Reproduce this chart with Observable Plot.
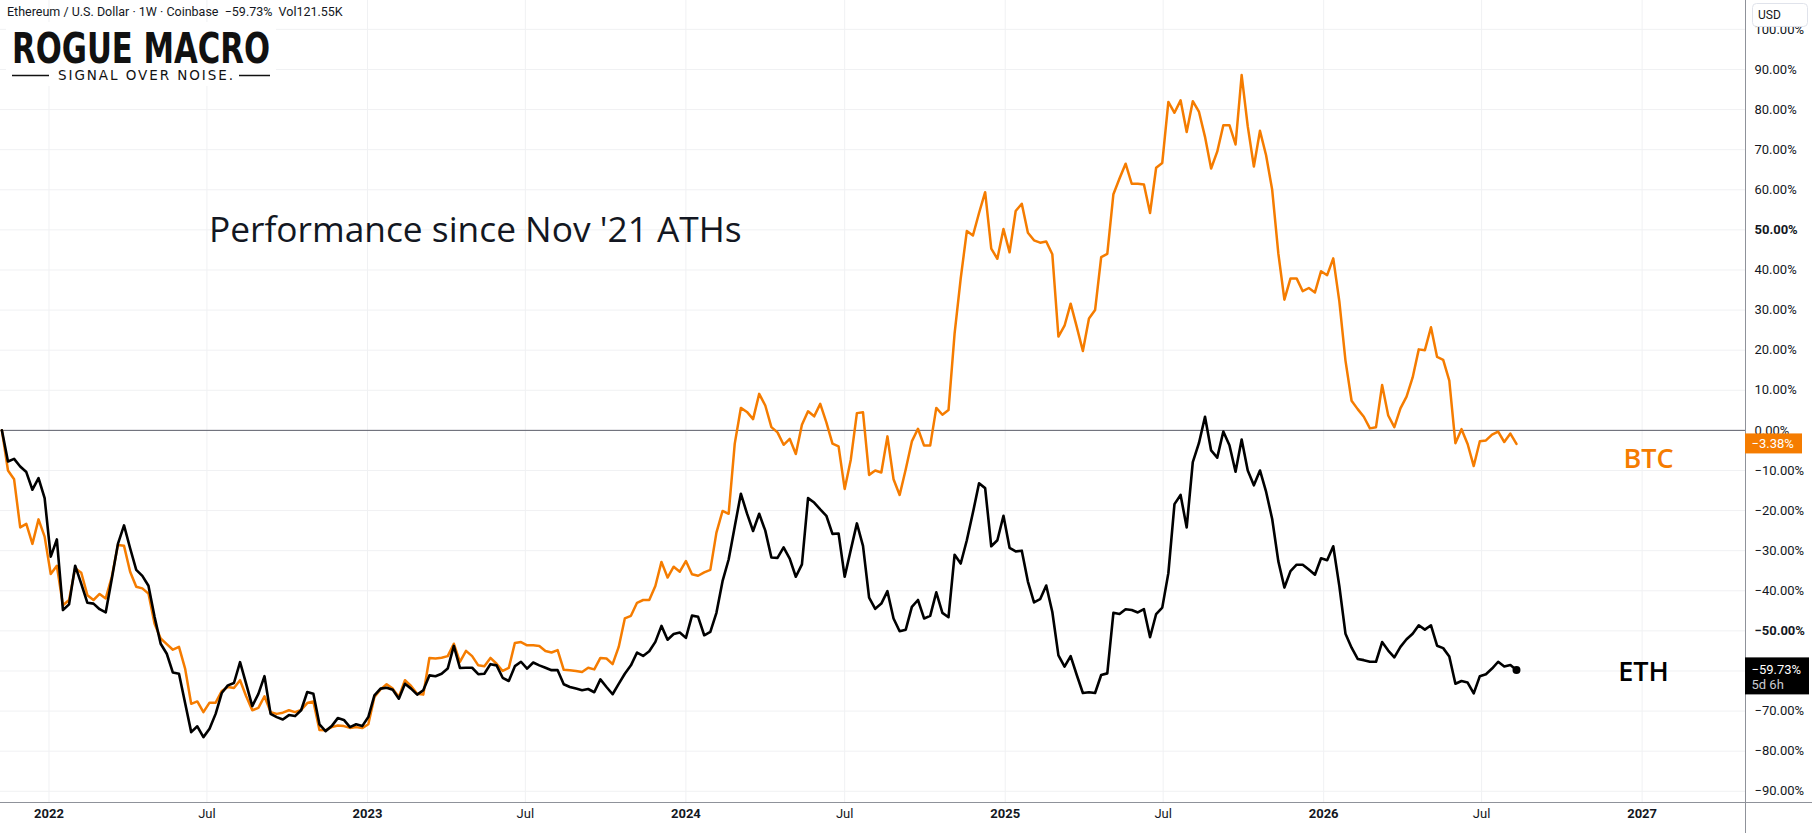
<!DOCTYPE html>
<html>
<head>
<meta charset="utf-8">
<script src="https://cdn.jsdelivr.net/npm/d3@7"></script>
<script src="https://cdn.jsdelivr.net/npm/@observablehq/plot@0.6"></script>
<style>
  html, body { margin: 0; padding: 0; background: #ffffff; }
  #chart { width: 1812px; height: 833px; }
  #chart svg text { white-space: pre; }
</style>
</head>
<body>
<div id="chart"></div>
<script>
// ---------- DATA (weekly closes, % performance since week of 2021-11-08) ----------
const firstWeek = "2021-11-08";

const ethPct = [
  0, -7.75, -7.1, -9, -10.4, -14.8, -11.9, -16.9, -31.5, -27.2,
  -44.8, -43.4, -33.75, -38.3, -43, -43.2, -44.6, -45.4, -37, -28.3,
  -23.7, -29.4, -34.8, -36.3, -38.75, -46.5, -53.2, -55.7, -60.4, -60.7,
  -68, -75.25, -73.8, -76.5, -74.4, -70.7, -65.5, -63.6, -63, -57.8,
  -63.2, -68.75, -65.7, -61.3, -70.7, -71.5, -72.1, -71, -71.25, -69.8,
  -65.25, -65.7, -73.3, -75, -73.75, -71.75, -72.2, -74, -73.3, -73.75,
  -71.5, -66.1, -64.4, -64.2, -64.7, -66.9, -63.2, -64.4, -65.9, -64.8,
  -61.1, -61.3, -60.7, -59.4, -53.75, -59.25, -59.2, -59.2, -60.8, -60.7,
  -58.3, -58.6, -61.7, -62.5, -58.8, -57.7, -59.4, -57.9, -58.6, -59.2,
  -59.8, -59.8, -63.3, -64, -64.4, -64.8, -64.5, -65.3, -62.1, -64,
  -65.8, -63.2, -60.7, -58.6, -55.4, -56.25, -55.1, -52.75, -48.75, -52.2,
  -50.8, -50.4, -51.75, -46.2, -46.5, -51.1, -50.25, -45.5, -37.6, -32.2,
  -24, -15.8, -20.7, -25.1, -20.8, -25, -31.7, -31.8, -29.2, -32,
  -36.5, -33.4, -16.9, -18, -19.7, -21.3, -25.8, -25.7, -36.5, -29.8,
  -23.2, -28.8, -41.7, -44.5, -43.2, -40.1, -46.9, -50.1, -49.7, -44,
  -42.3, -46.9, -46.25, -40.4, -45.5, -46.6, -31, -33.2, -27.4, -20.5,
  -13.2, -14.4, -28.9, -27.4, -21.3, -29.3, -30.2, -30, -37.7, -42.9,
  -42.1, -38.7, -45.3, -56.1, -58.9, -56.3, -61, -65.5, -65.3, -65.5,
  -61, -60.6, -45.5, -45.8, -44.6, -44.8, -45.4, -44.6, -51.6, -45.8,
  -44.2, -35.6, -18.4, -16.1, -24.2, -7.9, -3.2, 3.4, -5, -6.8,
  -0.3, -3.7, -10.3, -2.3, -10, -13.7, -10, -15.3, -22.1, -32.6,
  -39.2, -35.1, -33.5, -33.5, -34.7, -36, -31.9, -32.4, -28.9, -38.9,
  -50.7, -54.2, -57, -57.3, -57.7, -57.7, -52.8, -54.9, -56.6, -54,
  -52.1, -50.7, -48.6, -49.7, -48.6, -53.7, -54.3, -56.4, -63.2, -62.5,
  -62.9, -65.6, -61.3, -60.8, -59.4, -57.7, -58.9, -58.5, -59.73
];

const btcPct = [
  0, -10, -12.2, -24.2, -23.3, -28.3, -22.2, -26.5, -35.8, -33.75,
  -43.6, -42.3, -34.4, -35.5, -41.1, -42.3, -40.8, -41.9, -36.5, -28.6,
  -28.8, -35.25, -39, -39.4, -40.7, -48.2, -51.9, -53.3, -54.7, -54,
  -59.4, -68.2, -67.6, -70.25, -67.9, -67.9, -65, -64, -64.25, -62.3,
  -66.3, -69.8, -69.2, -66.3, -70.25, -70.7, -70.4, -69.8, -70.25, -69.7,
  -68, -67.6, -74.7, -74.8, -74, -73.6, -73.75, -74.2, -74, -74.25,
  -73.3, -66.5, -64.6, -63.3, -64.4, -66.5, -62.3, -63.75, -65.7, -65.9,
  -56.75, -56.9, -56.7, -56.3, -53.2, -57.75, -55, -56.3, -58.6, -58.8,
  -56.75, -58.2, -60, -59.25, -53, -52.8, -53.6, -53.6, -53.75, -55,
  -55.4, -54.8, -59.7, -59.8, -60, -60.25, -59.2, -59.6, -56.75, -56.9,
  -58.3, -54, -46.9, -46.25, -43, -42.3, -42.3, -38.8, -32.8, -36.7,
  -34, -35.25, -32.6, -35.9, -36.25, -35.4, -34.8, -25.5, -20.1, -20.8,
  -3.3, 5.6, 4.6, 2.8, 9.1, 6.2, 0.8, -0.5, -3.6, -2.1,
  -5.9, 1.4, 4.75, 3.5, 6.6, 2, -3.3, -4, -14.6, -7.3,
  4.3, 4.5, -11.1, -10, -10.5, -1.5, -12.2, -16.1, -9.7, -2.75,
  0.4, -3.8, -3.8, 5.6, 3.9, 5.05, 24.2, 37.9, 49.7, 48.6,
  54.2, 59.4, 45.3, 42.8, 50.2, 44.4, 54.7, 56.5, 49.3, 47.4,
  46.8, 47.1, 43.9, 23.4, 26.1, 31.6, 25.8, 19.8, 27.9, 30,
  43.2, 44, 58.9, 62.8, 66.5, 61.5, 61.5, 61.3, 54.2, 65.5,
  66.7, 81.9, 79.2, 82.3, 74.4, 82.1, 79.5, 73.2, 65.3, 69.5,
  76.1, 76.1, 71.3, 88.6, 75.8, 65.8, 74.7, 68.6, 60, 44.2,
  32.6, 37.9, 37.9, 34.7, 35.5, 34.4, 39.7, 38.7, 42.9, 32.1,
  17.4, 7.4, 5.3, 3.4, 0.5, 0.8, 11.3, 3.7, 0.8, 5.5,
  8.4, 13.2, 20.2, 20, 25.7, 18.3, 17.6, 12.4, -3.2, 0.3,
  -3.4, -8.9, -2.7, -2.5, -1.05, -0.3, -2.9, -0.8, -3.38
];

const yTicks = [100, 90, 80, 70, 60, 50, 40, 30, 20, 10, 0, -10, -20, -30, -40, -50, -60, -70, -80, -90];
const yBoldTicks = [50, -50];
const yHiddenTicks = [-60]; // covered by the ETH price label

const yearTickDates = ["2022-01-01", "2023-01-01", "2024-01-01", "2025-01-01", "2026-01-01", "2027-01-01"];
const yearTickLabels = ["2022", "2023", "2024", "2025", "2026", "2027"];
const monthTickDates = ["2022-07-01", "2023-07-01", "2024-07-01", "2025-07-01", "2026-07-01"];
const monthTickLabels = ["Jul", "Jul", "Jul", "Jul", "Jul"];

const headerText = "Ethereum / U.S. Dollar · 1W · Coinbase  −59.73%  Vol121.55K";
const annotationText = "Performance since Nov '21 ATHs";
const ethLabel = "ETH";
const btcLabel = "BTC";
const ethCountdown = "5d 6h";

// ---------- derived tables ----------
const toDate = s => new Date(s + "T00:00:00Z");
const weekDate = i => d3.utcDay.offset(toDate(firstWeek), 7 * i);
const ethRows = ethPct.map((v, i) => ({date: weekDate(i), v}));
const btcRows = btcPct.map((v, i) => ({date: weekDate(i), v}));
const yearTicks = yearTickDates.map((d, i) => ({date: toDate(d), label: yearTickLabels[i]}));
const monthTicks = monthTickDates.map((d, i) => ({date: toDate(d), label: monthTickLabels[i]}));
const lastEth = ethRows[ethRows.length - 1];
const lastBtc = btcRows[btcRows.length - 1];

const fmtPct = d => (d < 0 ? "\u2212" : "") + Math.abs(d).toFixed(2) + "%";

const ORANGE = "#f57c00";
const INK = "#131722";
const GRID = "#f0f1f3";
const FONT = "Roboto, 'Liberation Sans', sans-serif";

const chart = Plot.plot({
  width: 1812,
  height: 833,
  marginLeft: 0,
  marginRight: 67,
  marginTop: 0,
  marginBottom: 31,
  style: {background: "#ffffff", color: INK, fontFamily: FONT, fontSize: "13px", overflow: "visible"},
  x: {type: "utc", domain: [new Date("2021-11-06T10:00:00Z"), new Date("2027-04-29T12:00:00Z")], axis: null, label: null},
  y: {domain: [-92.8, 107.2], label: null},
  marks: [
    Plot.gridY(yTicks, {stroke: GRID, strokeOpacity: 1}),
    Plot.gridX([...yearTicks, ...monthTicks].map(d => d.date), {stroke: GRID, strokeOpacity: 1}),
    Plot.ruleY([0], {stroke: "#5d606b", strokeWidth: 1}),
    Plot.lineY(btcRows, {x: "date", y: "v", stroke: ORANGE, strokeWidth: 2.5, strokeLinejoin: "round"}),
    Plot.lineY(ethRows, {x: "date", y: "v", stroke: "#000000", strokeWidth: 2.6, strokeLinejoin: "round"}),
    Plot.dot([lastEth], {x: "date", y: "v", r: 4, fill: "#000000"}),
    Plot.text([lastBtc], {y: "v", text: () => btcLabel, frameAnchor: "right", dx: -97, dy: 15, textAnchor: "middle",
      fontSize: 27, fontWeight: 600, fill: ORANGE, fontFamily: "'Open Sans', sans-serif"}),
    Plot.text([lastEth], {y: "v", text: () => ethLabel, frameAnchor: "right", dx: -102, dy: 2, textAnchor: "middle",
      fontSize: 27, fontWeight: 600, fill: "#000000", fontFamily: "'Open Sans', sans-serif"}),
    Plot.axisY(yTicks.filter(t => !yBoldTicks.includes(t) && !yHiddenTicks.includes(t)),
      {anchor: "right", tickSize: 0, tickPadding: 9, tickFormat: fmtPct, fontSize: 13, label: null}),
    Plot.axisY(yBoldTicks, {anchor: "right", tickSize: 0, tickPadding: 9, tickFormat: fmtPct, fontSize: 13, fontWeight: "bold", label: null}),
    Plot.text(yearTicks, {x: "date", text: "label", frameAnchor: "bottom", dy: 15, fontSize: 13, fontWeight: "bold", fill: INK}),
    Plot.text(monthTicks, {x: "date", text: "label", frameAnchor: "bottom", dy: 15, fontSize: 13, fill: INK})
  ]
});

document.getElementById("chart").appendChild(chart);

// ---------- chrome drawn with the chart's own scales ----------
const svg = d3.select(chart);
const y = chart.scale("y");
const W = 1812, H = 833, axisX = 1812 - 67, axisY = 833 - 31;

const addText = (sel, x, yy, str, opts = {}) => sel.append("text")
  .attr("x", x).attr("y", yy)
  .attr("text-anchor", opts.anchor || "start")
  .attr("dominant-baseline", opts.baseline || "central")
  .attr("font-size", opts.size || 13)
  .attr("font-weight", opts.weight || "normal")
  .attr("font-family", opts.family || FONT)
  .attr("fill", opts.fill || INK)
  .text(str);

// scale borders
svg.append("line").attr("x1", axisX + 0.5).attr("x2", axisX + 0.5).attr("y1", 0).attr("y2", H)
  .attr("stroke", "#8f929a").attr("stroke-width", 1);
svg.append("line").attr("x1", 0).attr("x2", W).attr("y1", axisY + 0.5).attr("y2", axisY + 0.5)
  .attr("stroke", "#8f929a").attr("stroke-width", 1);

// USD box (partly covers the 100% label, as in TradingView)
svg.append("rect").attr("x", 1752.5).attr("y", 3.5).attr("width", 55).attr("height", 23).attr("rx", 4)
  .attr("fill", "#ffffff").attr("stroke", "#e0e3eb");
addText(svg, 1758, 14.5, "USD", {size: 12});

// price labels on the scale
const btcY = y.apply(lastBtc.v);
svg.append("rect").attr("x", axisX).attr("y", btcY - 10).attr("width", 57).attr("height", 20).attr("fill", ORANGE);
addText(svg, axisX + 6.5, btcY, fmtPct(lastBtc.v), {fill: "#ffffff"});

const ethY = y.apply(lastEth.v);
svg.append("rect").attr("x", axisX).attr("y", ethY - 12).attr("width", 64).attr("height", 37).attr("fill", "#000000");
addText(svg, axisX + 6.5, ethY + 0.5, fmtPct(lastEth.v), {fill: "#ffffff"});
addText(svg, axisX + 6.5, ethY + 15.5, ethCountdown, {fill: "#c9cbd1"});

// header
addText(svg, 7, 11.5, headerText, {size: 12.5});

// logo
svg.append("rect").attr("x", 6).attr("y", 22).attr("width", 270).attr("height", 64).attr("fill", "#ffffff");
addText(svg, 12, 63, "ROGUE MACRO", {size: 43, weight: "bold", baseline: "alphabetic",
  family: "'DejaVu Sans Condensed', 'DejaVu Sans', sans-serif", fill: "#111111"})
  .attr("textLength", 258).attr("lengthAdjust", "spacingAndGlyphs");
addText(svg, 58, 80, "SIGNAL OVER NOISE.", {size: 13.5, baseline: "alphabetic",
  family: "'DejaVu Sans', sans-serif", fill: "#111111"})
  .attr("textLength", 175).attr("lengthAdjust", "spacing");
svg.append("line").attr("x1", 12).attr("x2", 49).attr("y1", 75.5).attr("y2", 75.5).attr("stroke", "#111111").attr("stroke-width", 1.5);
svg.append("line").attr("x1", 239).attr("x2", 270).attr("y1", 75.5).attr("y2", 75.5).attr("stroke", "#111111").attr("stroke-width", 1.5);

// annotation
addText(svg, 209, 241.5, annotationText, {size: 35.3, baseline: "alphabetic", family: "'Open Sans', sans-serif"});
</script>
</body>
</html>
